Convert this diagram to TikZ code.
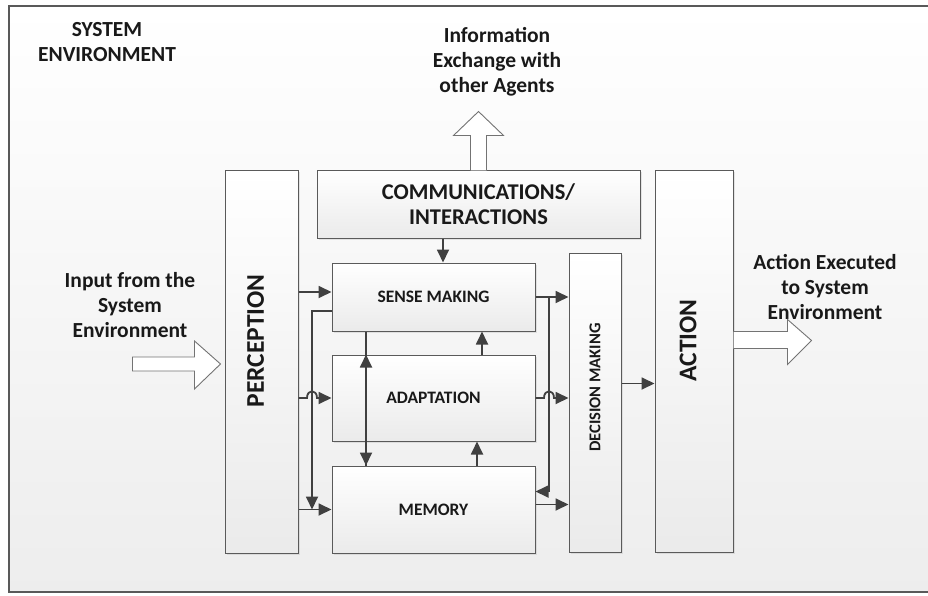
\documentclass[tikz,border=0pt]{standalone}
\usepackage{fontspec}
\setmainfont{Carlito}
\usetikzlibrary{arrows.meta,calc,shadows}

\definecolor{linegray}{HTML}{404040}
\definecolor{edgegray}{HTML}{5A5A5A}

\begin{document}
\begin{tikzpicture}[x=1pt,y=-1pt,
    box/.style={draw=edgegray,line width=1pt,top color=white,bottom color=black!8,
      drop shadow={opacity=0.18,shadow xshift=1.5pt,shadow yshift=-1.5pt},inner sep=0pt},
    conn/.style={draw=linegray,line width=1.8pt,-{Triangle[length=13pt,width=12pt]}},
    bigarrow/.style={draw=black!55,line width=0.9pt,fill=white},
    lbl/.style={font=\bfseries\fontsize{21.5}{25}\selectfont,align=center,text=black!90},
    boxlbl/.style={font=\bfseries\fontsize{17.5}{20}\selectfont,text=black!90},
    sidelbl/.style={font=\bfseries\fontsize{25.5}{28}\selectfont,text=black!90,rotate=90} ]
    \useasboundingbox (0,0) rectangle (928,596);
    % system environment frame
    \draw [black!65,line width=2.6pt,top color=white,bottom color=black!7] (9,6) rectangle (945,592);
    \node [lbl] (envtitle) at (107,42) {SYSTEM\\ENVIRONMENT};
    \node [lbl] (infotext) at (497,62) {Information\\Exchange with\\other Agents};
    \node [lbl] (intext) at (130,305) {Input from the\\System\\Environment};
    \node [lbl] (outtext) at (825,287) {Action Executed\\to System\\Environment};
    % blocks
    \node [box,minimum width=73,minimum height=382] (perc) at (261.5,362) {};
    \node [sidelbl] at ($(perc.center)+(-6,-21)$) {PERCEPTION};
    \node [box,minimum width=323,minimum height=67,font=\bfseries\fontsize{22.5}{25}\selectfont,align=center,text=black!90] (comm) at (478.5,204.5) {COMMUNICATIONS/\\INTERACTIONS};
    \node [box,minimum width=203,minimum height=68] (sense) at (433.5,297) {};
    \node [boxlbl] at (sense) {SENSE MAKING};
    \node [box,minimum width=203,minimum height=86] (adapt) at (433.5,398) {};
    \node [boxlbl] at (adapt) {ADAPTATION};
    \node [box,minimum width=203,minimum height=87] (mem) at (433.5,509.5) {};
    \node [boxlbl] at (mem) {MEMORY};
    \node [box,minimum width=52,minimum height=299] (dec) at (595,402.5) {};
    \node [boxlbl,rotate=90,font=\bfseries\fontsize{16.5}{19}\selectfont] at ($(dec.center)+(0,-15)$) {DECISION MAKING};
    \node [box,minimum width=78,minimum height=381] (act) at (694,361.5) {};
    \node [sidelbl] at ($(act.center)+(-6,-21)$) {ACTION};
    % bus lines
    \coordinate (lbus) at (312,311);
    \coordinate (rbus) at (549,297);
    \coordinate (dbl) at (366,0);
    % block arrows
    \draw [bigarrow] ($(comm.north)+(-8,0)$) -- ++(0,-35) -- ++(-17,0) -- ++(25,-24) -- ++(25,24) -- ++(-17,0) -- ++(0,35);
    \draw [bigarrow] ($(perc.west)+(-92,-5)$) -- ++(62,0) -- ++(0,-16) -- ++(26,23) -- ++(-26,25) -- ++(0,-18) -- ++(-62,0) -- cycle;
    \draw [bigarrow] ($(act.east)+(0,-30)$) -- ++(54,0) -- ++(0,-12) -- ++(24,21) -- ++(-24,24) -- ++(0,-16) -- ++(-54,0);
    % left side connectors
    \draw [conn] ([yshift=5pt]sense.west -| perc.east) -- ([yshift=5pt]sense.west);
    \draw [conn] ([yshift=-14pt]sense.west) -| (lbus |- mem.west);
    \draw [conn] (perc.east |- adapt.west) -- ($(lbus |- adapt.west)+(-5,0)$)
      .. controls ($(lbus |- adapt.west)+(-5,-9)$) and ($(lbus |- adapt.west)+(5,-9)$) .. ($(lbus |- adapt.west)+(5,0)$)
      -- (adapt.west);
    \draw [conn] (perc.east |- mem.west) -- (mem.west);
    % middle connectors
    \draw [conn] (comm.south -| 443,0) -- (sense.north -| 443,0);
    \draw [conn] (sense.south -| dbl) -- (mem.north -| dbl);
    \draw [conn] (mem.north -| dbl) -- (adapt.north -| dbl);
    \draw [conn] (adapt.north -| 482,0) -- (sense.south -| 482,0);
    \draw [conn] (mem.north -| 477,0) -- (adapt.south -| 477,0);
    % right side connectors
    \draw [conn] (sense.east) -- (sense.east -| dec.west);
    \draw [conn] (rbus) |- ([yshift=18pt]mem.east);
    \draw [conn] (adapt.east) -- ($(rbus |- adapt.east)+(-5,0)$)
      .. controls ($(rbus |- adapt.east)+(-5,-9)$) and ($(rbus |- adapt.east)+(5,-9)$) .. ($(rbus |- adapt.east)+(5,0)$)
      -- (adapt.east -| dec.west);
    \draw [conn] ([yshift=5pt]mem.east) -- ([yshift=5pt]mem.east -| dec.west);
    \draw [conn] ([yshift=19pt]dec.east) -- ([yshift=19pt]dec.east -| act.west);
\end{tikzpicture}
\end{document}
